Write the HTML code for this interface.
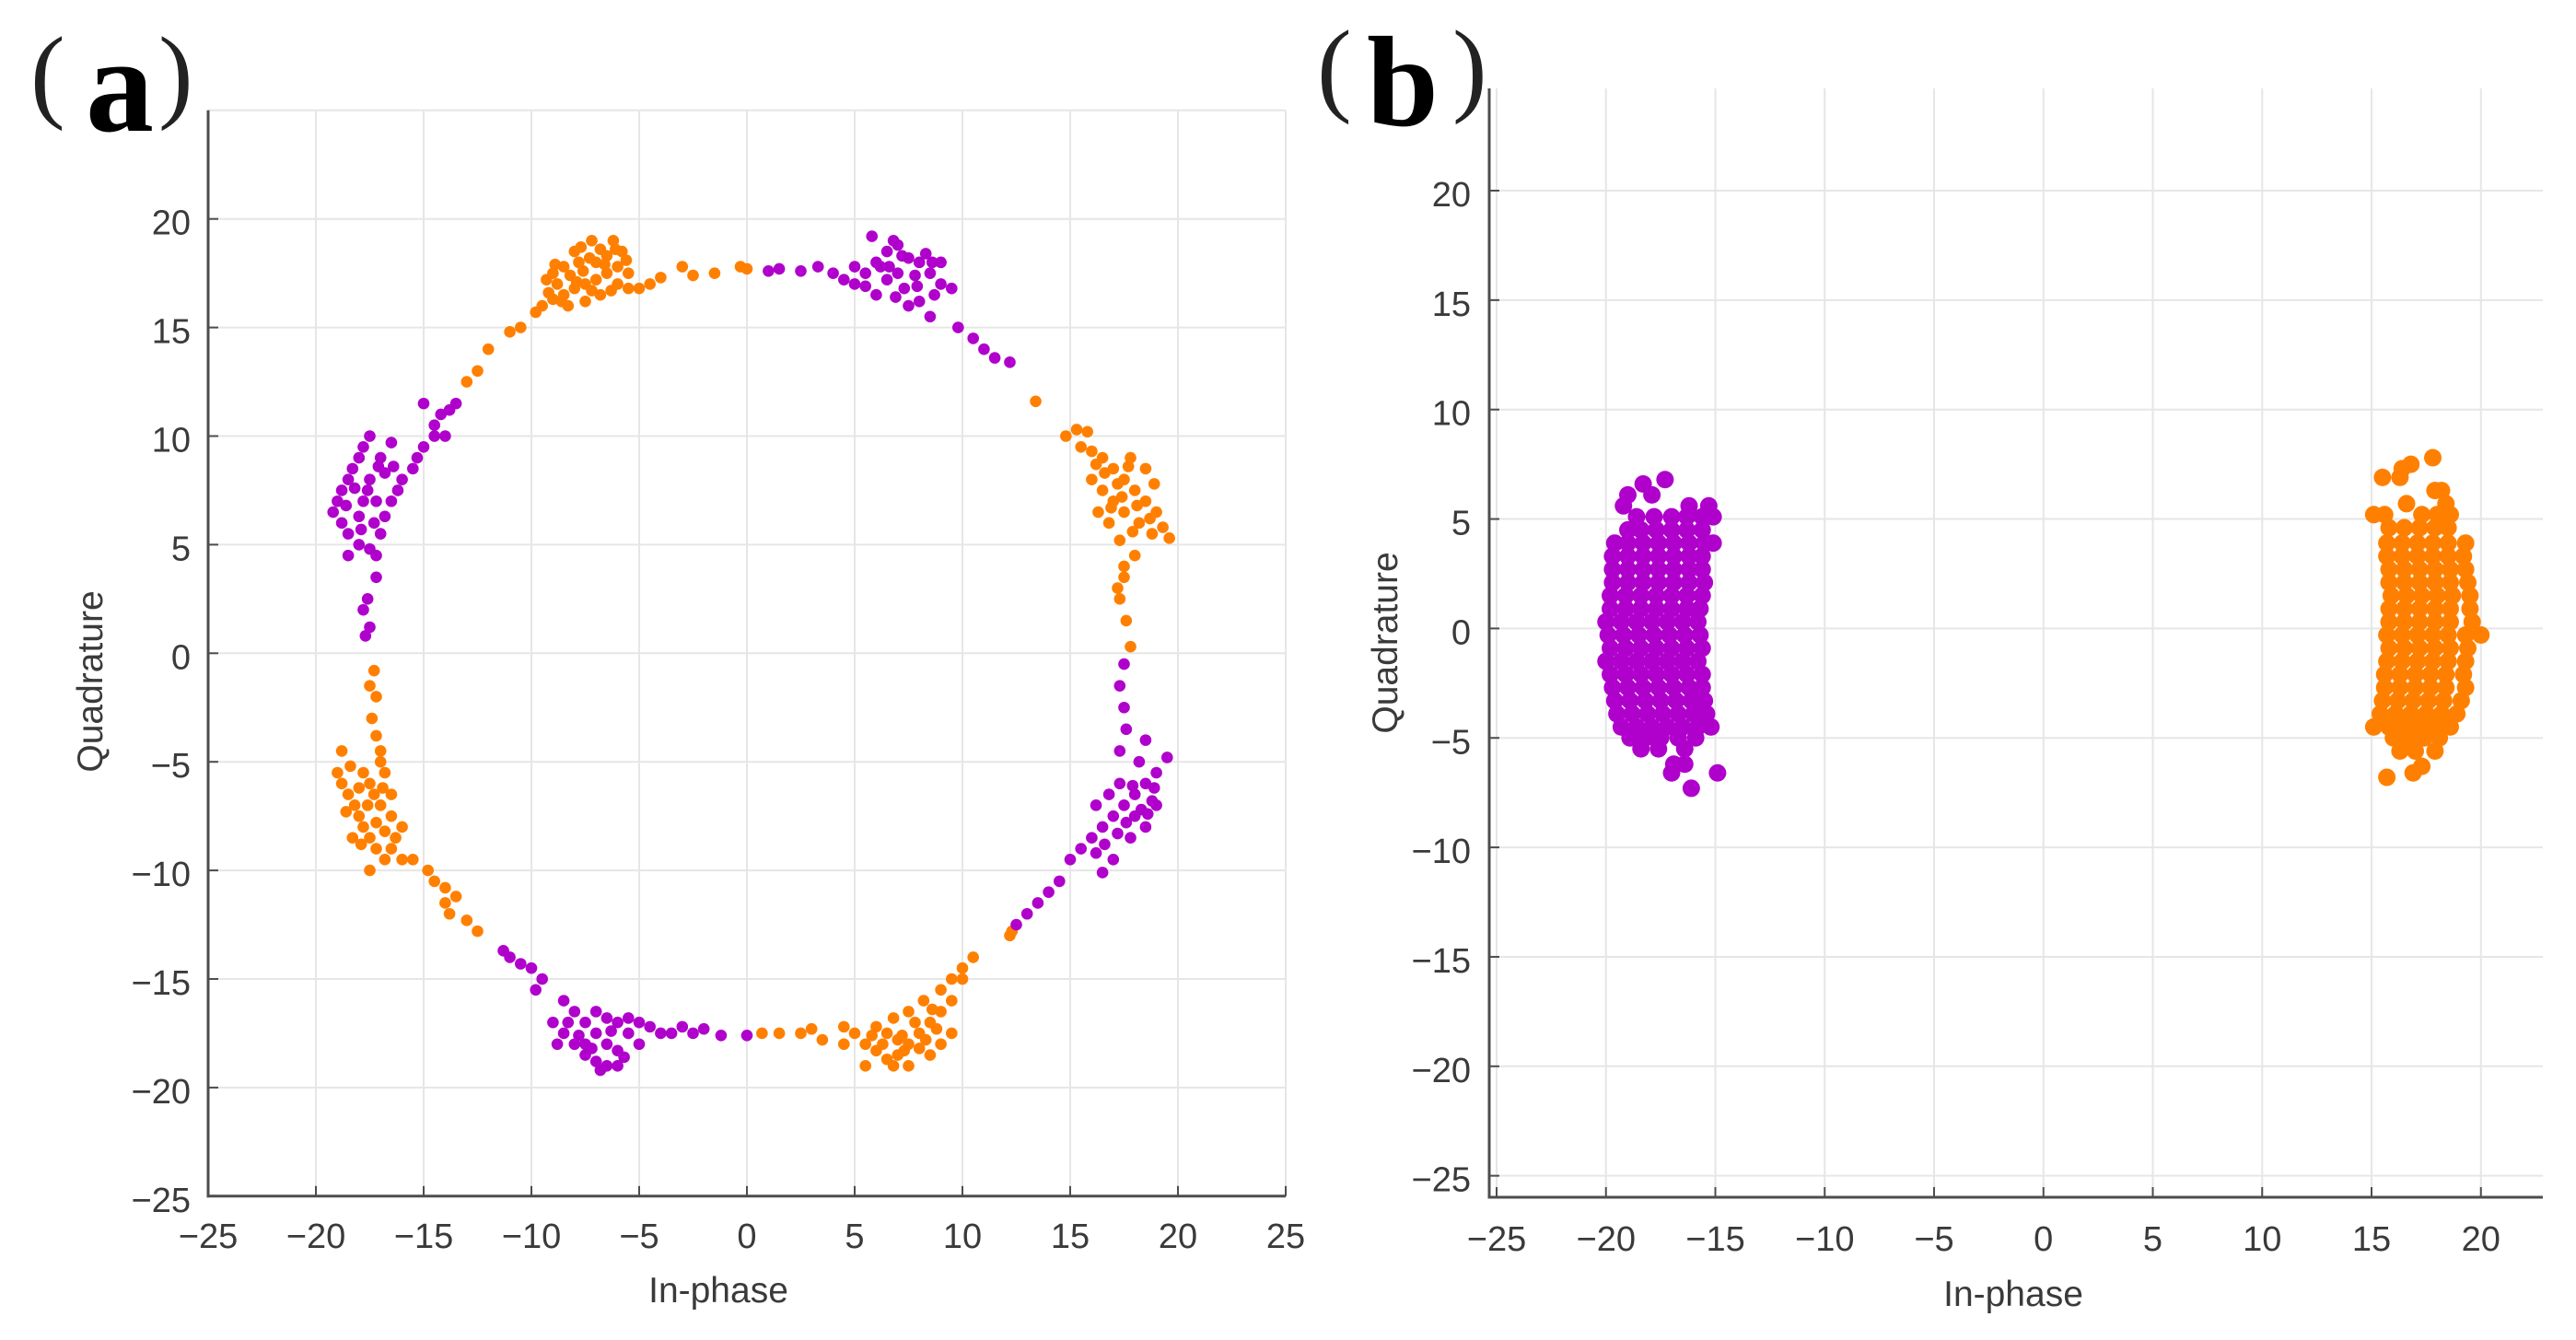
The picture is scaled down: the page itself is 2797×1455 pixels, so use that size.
<!DOCTYPE html>
<html><head><meta charset="utf-8">
<style>
html,body{margin:0;padding:0;background:#fff;}
svg{display:block;}
text{font-family:"Liberation Sans",sans-serif;fill:#3a3a3a;}
</style></head>
<body>
<svg id="fig" width="2797" height="1455" viewBox="0 0 2797 1455" xmlns="http://www.w3.org/2000/svg">
<g>
<text x="33" y="118" style="font-family:'Liberation Serif',serif;font-size:113px;fill:#222">(</text>
<text x="93" y="142" style="font-family:'Liberation Serif',serif;font-size:148px;font-weight:bold;fill:#000">a</text>
<text x="172" y="118" style="font-family:'Liberation Serif',serif;font-size:113px;fill:#222">)</text>
</g>
<g>
<text x="1430" y="111" style="font-family:'Liberation Serif',serif;font-size:113px;fill:#222">(</text>
<text x="1484" y="136" style="font-family:'Liberation Serif',serif;font-size:140px;font-weight:bold;fill:#000">b</text>
<text x="1577" y="111" style="font-family:'Liberation Serif',serif;font-size:113px;fill:#222">)</text>
</g>
<g id="ga"></g>
<g id="gb"></g>
</svg>
<script>
const xTicksA = [-25,-20,-15,-10,-5,0,5,10,15,20,25];
const yTicksA = [-25,-20,-15,-10,-5,0,5,10,15,20];
const xTicksB = [-25,-20,-15,-10,-5,0,5,10,15,20];
const yTicksB = [-25,-20,-15,-10,-5,0,5,10,15,20];

const orangeA = [
[-9.5,16.0],[-9.8,15.7],[-9,16.3],[-8.5,16.5],[-8,16.8],[-7.5,17],[-7,17.2],[-6.5,17.5],[-6,17.8],[-5.8,18.5],[-6.2,19],[-6.8,18.6],[-7.3,18.2],[-7.8,18],[-8.5,17.8],[-9,17.5],[-9.3,17.2],[-8.8,17],[-8.2,17.4],[-7.6,17.6],[-7,18],[-6.5,18.3],[-6,17],[-5.5,16.8],[-6.8,16.5],[-7.5,16.2],[-8.3,16],[-5.5,17.5],[-6.3,16.7],[-7.2,19],[-8,18.5],[-9.2,16.6],[-8.6,16.2],[-7.9,17.1],[-7.2,16.7],[-6.6,17.9],[-6.1,18.6],[-5.6,18.1],[-8.9,17.9],[-7.7,18.7],
[-4.5,17],[-4,17.3],[-3,17.8],[-2.5,17.4],[-1.5,17.5],[-0.3,17.8],[0,17.7],[-5,16.8],[-10.5,15],[-11,14.8],[-12,14],[-12.5,13],[-13,12.5],
[13.4,11.6],
[14.8,10],[15.3,10.3],[15.8,10.2],[15.5,9.5],[16,9.3],[16.5,9],[17,8.5],[17.5,8],[18,7.5],[18.5,7],[19,6.5],[19.3,5.8],[19.6,5.3],[18.8,5.5],[18.2,6],[17.5,6.5],[17,7],[16.5,7.5],[16,8],[16.8,6],[17.3,5.2],[18,4.5],[17.5,4],[18.5,8.5],[17.8,9],[16.3,6.5],[17.5,3.5],[17.3,2.5],[17.6,1.5],[17.8,0.3],[17.2,3],[18.9,7.8],[17.2,7.8],[16.6,8.3],[17.4,7.2],[18.1,6.8],[18.7,6.2],[17.9,5.6],[16.9,6.7],[17.7,8.6],[16.2,8.7],
[12.3,-12.8],[12.2,-13],[10.5,-14],[10,-14.5],[9.5,-15],[9,-15.5],
[10,-15],[9.5,-16],[9,-16.5],[8.5,-17],[8,-17.5],[7.5,-18],[7,-18.5],[6.5,-18.7],[6,-18.3],[5.5,-18],[5,-17.5],[4.5,-17.2],[6,-17.2],[6.8,-16.8],[7.5,-16.5],[8.2,-16],[9,-18],[8.5,-18.5],[7.5,-19],[5.5,-19],[6.5,-17.5],[7.2,-17.6],[8,-18.2],[9.5,-17.5],[4.5,-18],[3.5,-17.8],[3,-17.3],[2.5,-17.5],[1.5,-17.5],[0.7,-17.5],[8.8,-17.3],[7,-17.8],[7.8,-17],[8.6,-16.4],[6.3,-18],[5.8,-17.6],[7.3,-18.3],[8.3,-17.8],[6.8,-19],
[-17.3,-0.8],[-17.5,-1.5],[-17.2,-2],[-17.4,-3],[-17.2,-3.8],[-17,-4.5],[-18.8,-4.5],[-19,-5.5],[-18.8,-6],[-18.5,-6.5],[-18.2,-7],[-18,-7.5],[-17.8,-8],[-17.5,-8.5],[-17.2,-9],[-17.5,-10],[-16.8,-9.5],[-16.5,-9],[-16.3,-8.5],[-16,-8],[-16.5,-7.5],[-17,-7],[-17.3,-6.5],[-17.5,-6],[-17.8,-5.5],[-16.8,-5.5],[-16.5,-6.5],[-17,-5],[-18.3,-8.5],[-16,-9.5],[-18,-6.2],[-17.2,-7.8],[-18.6,-7.3],[-17.6,-7],[-16.8,-8.2],[-17.9,-8.8],[-16.9,-6.2],[-18.4,-5.2],
[-15.5,-9.5],[-14.8,-10],[-14.5,-10.5],[-14,-10.8],[-13.5,-11.2],[-14,-11.5],[-13.8,-12],[-13,-12.3],[-12.5,-12.8]
];
const purpleA = [
[4,17.5],[4.5,17.2],[5,17],[5.5,17.5],[6,18],[6.5,18.5],[7,18.8],[5.8,19.2],[6.8,19],[7.5,18.2],[8,18],[8.5,17.5],[9,17],[8.7,16.5],[8,16.2],[7.3,16.8],[6.5,17.2],[7,17.5],[7.8,17.4],[8.3,18.4],[9,18],[6,16.5],[7.5,16],[8.5,15.5],[9.5,16.8],[5,17.8],[6.2,17.8],[7.2,18.3],[8.6,18],[6.9,16.4],[7.9,16.9],[5.5,16.9],[6.6,17.8],
[1,17.6],[1.5,17.7],[2.5,17.6],[3.3,17.8],[9.8,15],[10.5,14.5],[11,14],[11.5,13.6],[12.2,13.4],
[17.5,-0.5],[17.3,-1.5],[17.5,-2.5],[17.6,-3.5],[17.3,-4.5],[18.5,-4],[19.5,-4.8],[19,-5.5],[18.5,-6],[18,-6.5],[17.5,-7],[17,-7.5],[16.5,-8],[16,-8.5],[15.5,-9],[15,-9.5],[16.2,-9.2],[17,-9.5],[17.8,-8.5],[18.5,-8],[19,-7],[18.8,-6.8],[18,-7.5],[17.3,-6],[16.8,-6.5],[16.2,-7],[18.2,-5],[16.5,-10.1],[18.3,-7.2],[17.6,-7.8],[18.6,-7.4],[17.2,-8.3],[16.6,-8.8],[18.9,-6.2],[17.9,-6.1],
[14.5,-10.5],[14,-11],[13.5,-11.5],[13,-12],[12.5,-12.5],
[-11.3,-13.7],[-11,-14],[-10.5,-14.3],[-10,-14.5],[-9.5,-15],[-9.8,-15.5],[-8.5,-16],[-9,-17],[-8.5,-17.5],[-8,-18],[-7.5,-18.5],[-7,-18.8],[-6.5,-19],[-6,-19],[-6.5,-18],[-7,-17.5],[-7.5,-17],[-8,-16.5],[-7,-16.5],[-6,-17],[-5.5,-17.5],[-5,-18],[-6,-18.3],[-5.5,-16.8],[-5,-17],[-4.5,-17.2],[-4,-17.5],[-3.5,-17.5],[-3,-17.2],[-2.5,-17.5],[-2,-17.3],[-1.2,-17.6],[-8.8,-18],[-7.5,-18],[-6.5,-16.8],[0,-17.6],[-7.8,-17.6],[-7.2,-18.2],[-6.3,-17.4],[-8.3,-17],[-6.8,-19.2],[-5.7,-18.6],
[-17.5,10],[-17.8,9.5],[-18,9],[-18.3,8.5],[-18.5,8],[-18.8,7.5],[-19,7],[-19.2,6.5],[-18.8,6],[-18.5,5.5],[-18,5],[-17.5,4.8],[-17.2,4.5],[-17,5.5],[-16.8,6.3],[-16.5,7],[-16.2,7.5],[-16,8],[-15.5,8.5],[-15.3,9],[-15,9.5],[-16.5,9.7],[-17,9],[-17.5,8],[-17.8,7],[-18,6.3],[-17.3,6],[-16.8,8.3],[-18.5,4.5],[-17.2,3.5],[-17.6,2.5],[-17.8,2],[-17.5,1.2],[-17.7,0.8],[-17.6,7.5],[-18.2,7.6],[-17.2,7],[-17.9,5.7],[-18.6,6.8],[-17.1,8.6],[-16.4,8.6],
[-14.5,10],[-14,10],[-15,11.5],[-14.2,11],[-13.8,11.2],[-13.5,11.5],[-14.5,10.5]
];

const purpleRowsY = [6.8,6.6,6.1,5.6,5.1,4.5,3.9,3.3,2.7,2.1,1.5,0.9,0.3,-0.3,-0.9,-1.5,-2.1,-2.7,-3.3,-3.9,-4.5,-5.0,-5.5,-6.2,-6.6,-7.3];
const purpleRowsX = [
[-17.3],[-18.3],[-19.0,-17.9],[-19.2,-16.2,-15.3],
[-18.6,-17.8,-17.0,-16.3,-15.6,-15.1],
[-19.0,-18.4,-17.7,-17.0,-16.3,-15.6],
[-19.6,-19.0,-18.3,-17.6,-16.9,-16.2,-15.5,-15.1],
[-19.7,-19.0,-18.3,-17.6,-16.9,-16.2,-15.6],
[-19.7,-19.0,-18.3,-17.6,-16.9,-16.2,-15.6],
[-19.7,-19.0,-18.3,-17.6,-16.9,-16.2,-15.5],
[-19.8,-19.1,-18.4,-17.7,-17.0,-16.3,-15.6],
[-19.8,-19.1,-18.4,-17.7,-17.0,-16.3,-15.7],
[-20.0,-19.3,-18.6,-17.9,-17.2,-16.5,-15.8],
[-19.9,-19.2,-18.5,-17.8,-17.1,-16.4,-15.7],
[-19.8,-19.1,-18.4,-17.7,-17.0,-16.3,-15.6],
[-20.0,-19.3,-18.6,-17.9,-17.2,-16.5,-15.8],
[-19.8,-19.1,-18.4,-17.7,-17.0,-16.3,-15.6],
[-19.7,-19.0,-18.3,-17.6,-16.9,-16.2,-15.6],
[-19.6,-18.9,-18.2,-17.5,-16.8,-16.1,-15.5],
[-19.5,-18.8,-18.1,-17.4,-16.7,-16.0,-15.4],
[-19.3,-18.6,-17.9,-17.2,-16.5,-15.8,-15.2],
[-18.9,-18.2,-17.5,-16.7,-15.9],
[-18.4,-17.6,-16.4],
[-16.9,-16.4],
[-17.0,-14.9],
[-16.1]
];
const orangeRowsY = [7.8,7.5,7.3,6.9,6.3,5.7,5.2,4.6,3.9,3.3,2.7,2.1,1.5,0.9,0.3,-0.3,-0.9,-1.5,-2.1,-2.7,-3.3,-3.9,-4.5,-5.0,-5.6,-6.3,-6.6,-6.8];
const orangeRowsX = [
[17.8],[16.8],[16.4],[15.5,16.3],[17.9,18.2],[16.6,18.4],
[15.1,15.6,17.3,18.0,18.6],
[15.8,16.5,17.2,17.9,18.5],
[15.7,16.4,17.1,17.8,18.5,19.3],
[15.7,16.4,17.1,17.8,18.5,19.2],
[15.8,16.5,17.2,17.9,18.6,19.3],
[15.8,16.5,17.2,17.9,18.6,19.4],
[15.9,16.6,17.3,18.0,18.7,19.5],
[15.8,16.5,17.2,17.9,18.6,19.5],
[15.8,16.5,17.2,17.9,18.6,19.6],
[15.7,16.4,17.1,17.8,18.5,19.3,20.0],
[15.8,16.5,17.2,17.9,18.6,19.4],
[15.7,16.4,17.1,17.8,18.5,19.3],
[15.6,16.3,17.0,17.7,18.4,19.2],
[15.6,16.3,17.0,17.7,18.4,19.3],
[15.5,16.2,16.9,17.6,18.3,19.1],
[15.4,16.1,16.8,17.5,18.2,18.9],
[15.1,15.8,16.5,17.2,17.9,18.6],
[16.0,16.7,17.4,18.1],
[16.3,17.0,17.9],
[17.3],[16.9],[15.7]
];

const NS='http://www.w3.org/2000/svg';
function el(parent,tag,attrs){const e=document.createElementNS(NS,tag);for(const k in attrs)e.setAttribute(k,attrs[k]);parent.appendChild(e);return e;}
function fmt(t){return t<0?'\u2212'+(-t):String(t);}

const axA = {x:v=>226+(v+25)*23.4, y:v=>237.7-(v-20)*23.58};
const axB = {x:v=>1625+(v+25)*23.75, y:v=>207-(v-20)*23.77};
const AX='#4d4d4d', GR='#e6e6e6';

const ga=document.getElementById('ga');
const gb=document.getElementById('gb');

// ---- Panel A ----
xTicksA.forEach(t=>{const l=el(ga,'line',{x1:axA.x(t),x2:axA.x(t),y1:axA.y(25),y2:axA.y(-25),stroke:GR,'stroke-width':2});

});
[...yTicksA,25].forEach(t=>{const l=el(ga,'line',{x1:axA.x(-25),x2:axA.x(25),y1:axA.y(t),y2:axA.y(t),stroke:GR,'stroke-width':2});

});
orangeA.forEach(p=>{const c=el(ga,'circle',{cx:axA.x(p[0]),cy:axA.y(p[1]),r:6.3,fill:'#ff8000'});

});
purpleA.forEach(p=>{const c=el(ga,'circle',{cx:axA.x(p[0]),cy:axA.y(p[1]),r:6.3,fill:'#b000cc'});

});
let a1=el(ga,'line',{x1:axA.x(-25),x2:axA.x(-25),y1:axA.y(25),y2:axA.y(-25)+1.5,stroke:AX,'stroke-width':3});


let a2=el(ga,'line',{x1:axA.x(-25)-1.5,x2:axA.x(25),y1:axA.y(-25),y2:axA.y(-25),stroke:AX,'stroke-width':3});


xTicksA.forEach(t=>{el(ga,'line',{x1:axA.x(t),x2:axA.x(t),y1:axA.y(-25),y2:axA.y(-25)-11,stroke:AX,'stroke-width':2});
const tx=el(ga,'text',{x:axA.x(t),y:1355,'text-anchor':'middle','font-size':38});
tx.textContent=fmt(t);

});
yTicksA.forEach(t=>{el(ga,'line',{x1:axA.x(-25),x2:axA.x(-25)+11,y1:axA.y(t),y2:axA.y(t),stroke:AX,'stroke-width':2});
const tx=el(ga,'text',{x:207,y:axA.y(t)+17,'text-anchor':'end','font-size':38});
tx.textContent=fmt(t);

});
let xl=el(ga,'text',{x:780,y:1414,'text-anchor':'middle','font-size':39});xl.textContent='In-phase';


let yl=el(ga,'text',{x:0,y:0,'text-anchor':'middle','font-size':39,transform:'translate(111,740) rotate(-90)'});yl.textContent='Quadrature';



// ---- Panel B ----
xTicksB.forEach(t=>{const l=el(gb,'line',{x1:axB.x(t),x2:axB.x(t),y1:96,y2:1300,stroke:GR,'stroke-width':2});

});
yTicksB.forEach(t=>{const l=el(gb,'line',{x1:1617,x2:2761,y1:axB.y(t),y2:axB.y(t),stroke:GR,'stroke-width':2});

});
purpleRowsY.forEach((y,i)=>purpleRowsX[i].forEach(x=>{const c=el(gb,'circle',{cx:axB.x(x),cy:axB.y(y),r:9.5,fill:'#b000cc'});

}));
orangeRowsY.forEach((y,i)=>orangeRowsX[i].forEach(x=>{const c=el(gb,'circle',{cx:axB.x(x),cy:axB.y(y),r:9.5,fill:'#ff8000'});

}));
let b1=el(gb,'line',{x1:1617,x2:1617,y1:96,y2:1301.5,stroke:AX,'stroke-width':3});


let b2=el(gb,'line',{x1:1615.5,x2:2761,y1:1300,y2:1300,stroke:AX,'stroke-width':3});


xTicksB.forEach(t=>{el(gb,'line',{x1:axB.x(t),x2:axB.x(t),y1:1300,y2:1289,stroke:AX,'stroke-width':2});
const tx=el(gb,'text',{x:axB.x(t),y:1358,'text-anchor':'middle','font-size':38});
tx.textContent=fmt(t);

});
yTicksB.forEach(t=>{el(gb,'line',{x1:1617,x2:1628,y1:axB.y(t),y2:axB.y(t),stroke:AX,'stroke-width':2});
const tx=el(gb,'text',{x:1597,y:axB.y(t)+17,'text-anchor':'end','font-size':38});
tx.textContent=fmt(t);

});
let xl2=el(gb,'text',{x:2186,y:1418,'text-anchor':'middle','font-size':39});xl2.textContent='In-phase';


let yl2=el(gb,'text',{x:0,y:0,'text-anchor':'middle','font-size':39,transform:'translate(1517,698) rotate(-90)'});yl2.textContent='Quadrature';


</script>
</body></html>
